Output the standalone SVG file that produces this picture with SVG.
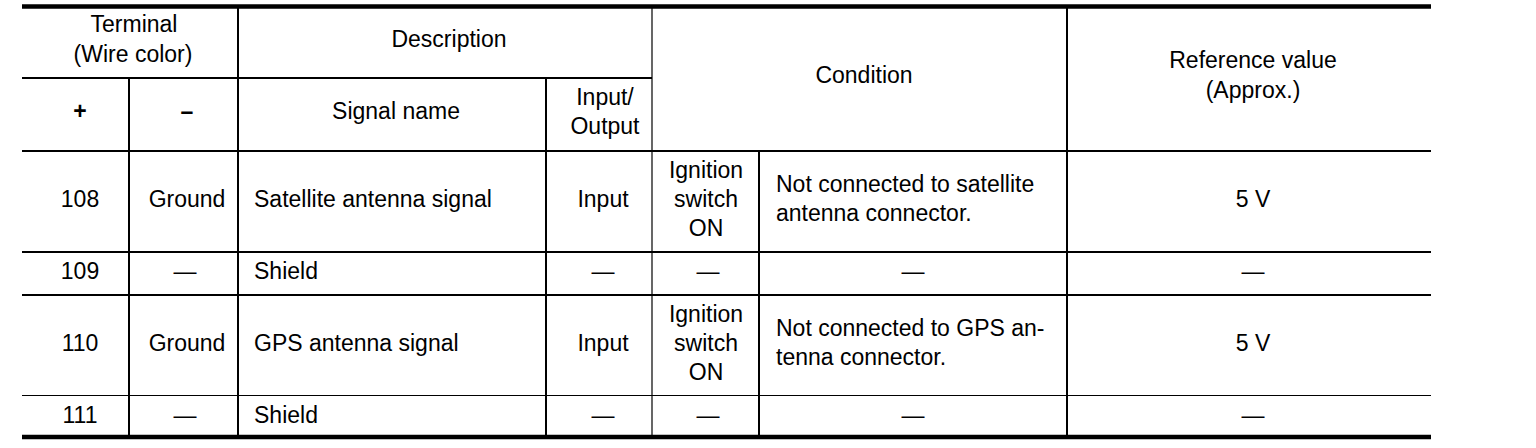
<svg xmlns="http://www.w3.org/2000/svg" width="1536" height="448" viewBox="0 0 1536 448">
<style>
text{font-family:"Liberation Sans",Arial,sans-serif;font-size:23px;fill:#000}
.c{text-anchor:middle}
.b{font-weight:bold}
line{stroke:#000}
.thick{stroke-width:4.5}
.med{stroke-width:2}
.thin{stroke-width:1.2}
</style>
<rect width="1536" height="448" fill="#fff"/>
<g id="grid">
<line class="thick" x1="22" y1="6.5" x2="1431" y2="6.5"/>
<line class="med" x1="22" y1="78" x2="652" y2="78"/>
<line class="med" x1="22" y1="151" x2="1431" y2="151"/>
<line class="med" x1="22" y1="252" x2="1431" y2="252"/>
<line class="med" x1="22" y1="295" x2="1431" y2="295"/>
<line class="thin" x1="22" y1="395.5" x2="1431" y2="395.5"/>
<line class="thick" x1="22" y1="437" x2="1431" y2="437"/>
<line class="med" x1="129" y1="78" x2="129" y2="435"/>
<line class="med" x1="238" y1="8" x2="238" y2="435"/>
<line class="med" x1="546" y1="78" x2="546" y2="435"/>
<line class="thin" x1="652" y1="8" x2="652" y2="435"/>
<line class="med" x1="759" y1="151" x2="759" y2="435"/>
<line class="med" x1="1067" y1="8" x2="1067" y2="435"/>
</g>
<g id="header">
<text class="c" x="134" y="32">Terminal</text>
<text class="c" x="133" y="62">(Wire color)</text>
<text class="c" x="449" y="47">Description</text>
<text class="c b" x="80" y="119">+</text>
<text class="c b" x="187" y="119">–</text>
<text class="c" x="396" y="119">Signal name</text>
<text class="c" x="605" y="105">Input/</text>
<text class="c" x="605" y="134">Output</text>
<text class="c" x="864" y="83">Condition</text>
<text class="c" x="1253" y="68">Reference value</text>
<text class="c" x="1253" y="98">(Approx.)</text>
</g>
<g id="row108">
<text class="c" x="80" y="206.5">108</text>
<text class="c" x="187" y="206.5">Ground</text>
<text x="254" y="206.5">Satellite antenna signal</text>
<text class="c" x="603" y="206.5">Input</text>
<text class="c" x="706" y="177.5">Ignition</text>
<text class="c" x="706" y="206.5">switch</text>
<text class="c" x="706" y="235.5">ON</text>
<text x="776" y="191.5">Not connected to satellite</text>
<text x="776" y="220.5">antenna connector.</text>
<text class="c" x="1253" y="206.5">5 V</text>
</g>
<g id="row109">
<text class="c" x="80" y="278.5">109</text>
<text class="c" x="185" y="278.5">—</text>
<text x="254" y="278.5">Shield</text>
<text class="c" x="603" y="278.5">—</text>
<text class="c" x="708" y="278.5">—</text>
<text class="c" x="913" y="278.5">—</text>
<text class="c" x="1253" y="278.5">—</text>
</g>
<g id="row110">
<text class="c" x="80" y="350.5">110</text>
<text class="c" x="187" y="350.5">Ground</text>
<text x="254" y="350.5">GPS antenna signal</text>
<text class="c" x="603" y="350.5">Input</text>
<text class="c" x="706" y="321.5">Ignition</text>
<text class="c" x="706" y="350.5">switch</text>
<text class="c" x="706" y="379.5">ON</text>
<text x="776" y="335.5">Not connected to GPS an-</text>
<text x="776" y="364.5">tenna connector.</text>
<text class="c" x="1253" y="350.5">5 V</text>
</g>
<g id="row111">
<text class="c" x="80" y="422.5">111</text>
<text class="c" x="185" y="422.5">—</text>
<text x="254" y="422.5">Shield</text>
<text class="c" x="603" y="422.5">—</text>
<text class="c" x="708" y="422.5">—</text>
<text class="c" x="913" y="422.5">—</text>
<text class="c" x="1253" y="422.5">—</text>
</g>
</svg>
